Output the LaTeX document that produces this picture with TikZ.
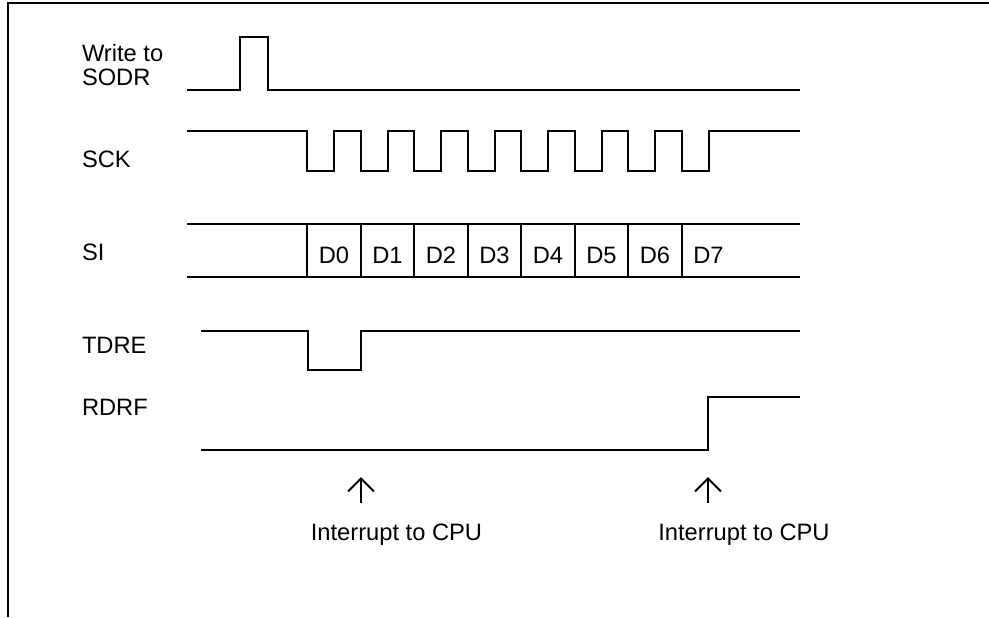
\documentclass[tikz,border=0pt]{standalone}
\usepackage{fontspec}
\setmainfont{Liberation Sans}
\usetikzlibrary{arrows.meta}

\begin{document}
\begin{tikzpicture}[x=0.5pt,y=-0.5pt,line width=1pt,font=\fontsize{11.85}{12}\selectfont,
  siglabel/.style={anchor=west,inner sep=0pt},
  irq/.style={-{Straight Barb[length=6.5pt,width=13pt]}}]
  \useasboundingbox (0,0) rectangle (989,617);
  \draw[line width=0.75pt] (989,3) -- (8,3) -- (8,617);
  \node[siglabel,align=left] (wr) at (81,65.5) {Write to\\SODR};
  \node[siglabel] (sck) at (81,159.5) {SCK};
  \node[siglabel] (si) at (81,252.5) {SI};
  \node[siglabel] (tdre) at (81,345.5) {TDRE};
  \node[siglabel] (rdrf) at (81,407.5) {RDRF};
  \draw (187,90) -- (240,90) -- (240,37) -- (268,37) -- (268,90) -- (800,90);
  \draw (187,131) \foreach \t in {0,...,7}{ -- ({307+53.5*\t},131) -- ({307+53.5*\t},171)
    -- ({334+53.5*\t},171) -- ({334+53.5*\t},131)} -- (800,131);
  \draw (187,224) -- (800,224) (187,277) -- (800,277);
  \foreach \t in {0,...,7}{
    \draw ({307+53.5*\t},224) -- ({307+53.5*\t},277);
    \node (d\t) at ({334+53.5*\t},255.5) {D\t};
  }
  \draw (201,331) -- (308,331) -- (308,370) -- (361,370) -- (361,331) -- (800,331);
  \draw (201,450) -- (708,450) -- (708,397) -- (800,397);
  \coordinate (irqa) at (361,503); \coordinate (irqb) at (361,477);
  \coordinate (irqc) at (708,503); \coordinate (irqd) at (708,477);
  \draw[irq] (irqa) -- (irqb);
  \draw[irq] (irqc) -- (irqd);
  \node (cpu1) at (396.5,535) {Interrupt to CPU};
  \node (cpu2) at (744,535) {Interrupt to CPU};
\end{tikzpicture}
\end{document}
